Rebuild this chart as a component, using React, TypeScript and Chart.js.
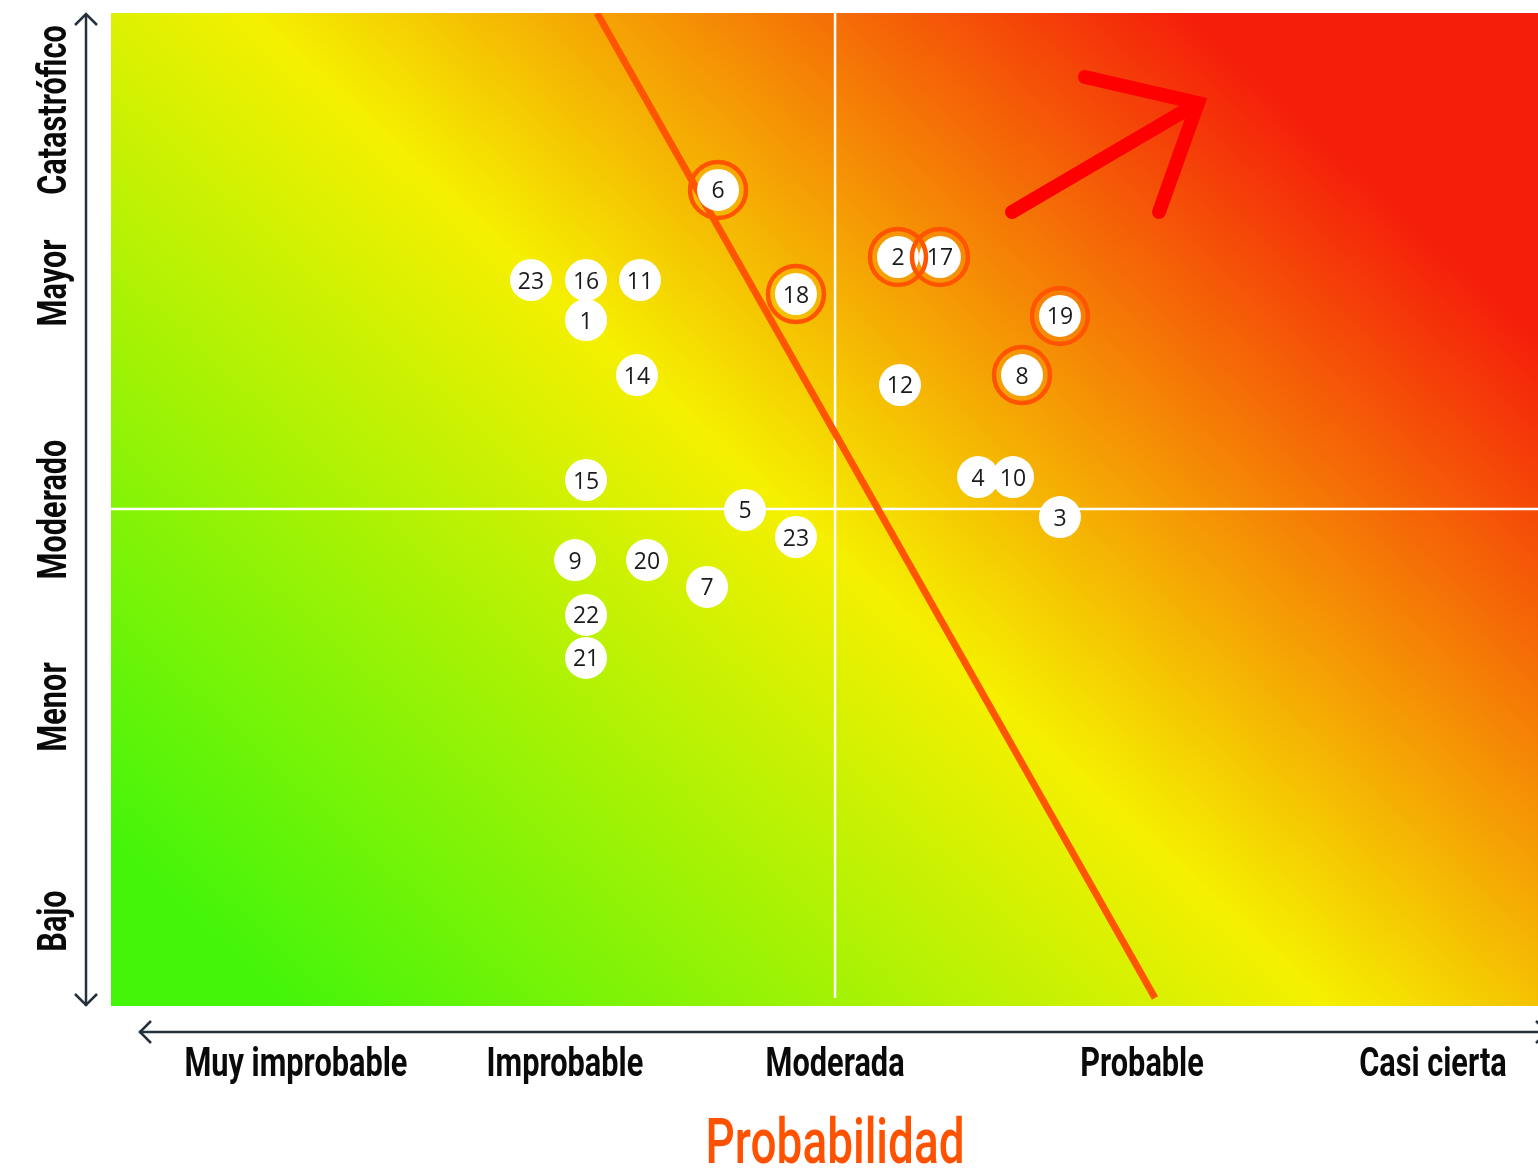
import React, { useEffect, useRef } from "react";
import { Chart, registerables } from "chart.js";
Chart.register(...registerables);

// ---- data ----
const riskIds = ["6", "23", "16", "11", "1", "18", "14", "2", "17", "19", "8", "12", "4", "10", "3", "15", "5", "23", "9", "20", "7", "22", "21"];
const probability = [42.54, 29.43, 33.29, 37.07, 33.29, 48.0, 36.86, 55.15, 58.09, 66.5, 63.84, 55.29, 60.76, 63.21, 66.5, 33.29, 44.43, 48.0, 32.52, 37.56, 41.77, 33.29, 33.29];
const impact = [82.18, 73.11, 73.11, 73.11, 69.08, 71.7, 63.54, 75.43, 75.43, 69.49, 63.54, 62.54, 53.27, 53.27, 49.24, 52.97, 49.95, 47.23, 44.91, 44.91, 42.2, 39.38, 35.05];
const flagged = [true, false, false, false, false, true, false, true, true, true, true, false, false, false, false, false, false, false, false, false, false, false, false];

const probLabels = ["Muy improbable", "Improbable", "Moderada", "Probable", "Casi cierta"];
const probTicks = [12.96, 31.81, 50.74, 72.25, 92.64];
const impactLabels = ["Bajo", "Menor", "Moderado", "Mayor", "Catastrófico"];
const impactTicks = [8.56, 30.11, 50.0, 72.81, 90.23];

const thresholdX = [34.06, 73.16];
const thresholdY = [100, 0.81];
const midProb = 50.74;
const midImpact = 50.05;
const vLineY = [0.81, 100];
const hLineX = [0, 100];
const arrowShaftX = [63.14, 76.17];
const arrowShaftY = [79.96, 90.94];
const arrowHeadX = [68.25, 76.17, 73.44];
const arrowHeadY = [93.55, 90.94, 79.96];

const xTitle = "Probabilidad";

const LABEL_FONT = 'bold 41px Roboto';
const TITLE_FONT = '500 63px Roboto';

function condensedText(ctx: CanvasRenderingContext2D, text: string, x: number, y: number, font: string, color: string, sx: number, rotate: boolean) {
  ctx.save();
  ctx.translate(x, y);
  if (rotate) ctx.rotate(-Math.PI / 2);
  ctx.scale(sx, 1);
  ctx.font = font;
  ctx.fillStyle = color;
  ctx.textAlign = "center";
  ctx.textBaseline = "alphabetic";
  ctx.fillText(text, 0, 0);
  ctx.restore();
}

const bgPlugin = {
  id: "bgGradient",
  beforeDatasetsDraw(chart: any) {
    const { ctx, chartArea: a } = chart;
    const cx = a.left + (a.right - a.left) * 0.476;
    const cy = a.top + (a.bottom - a.top) * 0.5;
    const dx = 0.677, dy = -0.736;
    const g = ctx.createLinearGradient(cx - 825 * dx, cy - 825 * dy, cx + 872 * dx, cy + 872 * dy);
    g.addColorStop(0, "#44f50a");
    g.addColorStop(0.07, "#44f50a");
    g.addColorStop(0.486, "#f5f000");
    g.addColorStop(0.86, "#f51e0a");
    g.addColorStop(1, "#f51e0a");
    ctx.save();
    ctx.fillStyle = g;
    ctx.fillRect(a.left, a.top, a.right - a.left, a.bottom - a.top);
    ctx.restore();
  },
};

const decoPlugin = {
  id: "deco",
  afterDatasetsDraw(chart: any) {
    const { ctx } = chart;
    const meta = chart.getDatasetMeta(1);
    ctx.save();
    ctx.font = '23px "Open Sans"';
    ctx.fillStyle = "#1b1b1b";
    ctx.textAlign = "center";
    ctx.textBaseline = "alphabetic";
    meta.data.forEach((el: any, i: number) => {
      ctx.fillText(riskIds[i], el.x, el.y + 8.5);
    });
    ctx.restore();
  },
  afterDraw(chart: any) {
    const { ctx, chartArea: a, scales } = chart;
    const axisColor = "#26303c";
    ctx.save();
    ctx.strokeStyle = axisColor;
    ctx.lineWidth = 2.5;
    ctx.lineCap = "butt";
    const ax = a.left - 25;
    ctx.beginPath();
    ctx.moveTo(ax, a.top + 1);
    ctx.lineTo(ax, a.bottom);
    ctx.stroke();
    ctx.beginPath();
    ctx.moveTo(ax - 11, a.top + 12);
    ctx.lineTo(ax, a.top + 1);
    ctx.lineTo(ax + 11, a.top + 12);
    ctx.stroke();
    ctx.beginPath();
    ctx.moveTo(ax - 11, a.bottom - 12);
    ctx.lineTo(ax, a.bottom - 1);
    ctx.lineTo(ax + 11, a.bottom - 12);
    ctx.stroke();
    const ay = a.bottom + 26;
    ctx.beginPath();
    ctx.moveTo(a.left + 28, ay);
    ctx.lineTo(a.right + 12, ay);
    ctx.stroke();
    ctx.beginPath();
    ctx.moveTo(a.left + 40, ay - 11);
    ctx.lineTo(a.left + 29, ay);
    ctx.lineTo(a.left + 40, ay + 11);
    ctx.stroke();
    ctx.beginPath();
    ctx.moveTo(a.right - 2, ay - 11);
    ctx.lineTo(a.right + 9, ay);
    ctx.lineTo(a.right - 2, ay + 11);
    ctx.stroke();
    ctx.restore();

    ctx.save();
    ctx.font = LABEL_FONT;
    const sx = 223 / ctx.measureText("Muy improbable").width;
    ctx.font = TITLE_FONT;
    const tsx = 259 / ctx.measureText(xTitle).width;
    ctx.restore();

    probLabels.forEach((lab, i) => {
      const x = scales.x.getPixelForValue(probTicks[i]);
      condensedText(ctx, lab, x, a.bottom + 70, LABEL_FONT, "#0a0a0a", sx, false);
    });
    impactLabels.forEach((lab, i) => {
      const y = scales.y.getPixelForValue(impactTicks[i]);
      condensedText(ctx, lab, a.left - 45, y, LABEL_FONT, "#0a0a0a", sx, true);
    });
    const tx = scales.x.getPixelForValue(midProb);
    condensedText(ctx, xTitle, tx, a.bottom + 157, TITLE_FONT, "#ff5200", tsx, false);
  },
};

export default function App() {
  const ref = useRef<HTMLCanvasElement | null>(null);
  useEffect(() => {
    if (!ref.current) return;
    const pts = probability.map((x, i) => ({ x, y: impact[i] }));
    const ringPts = pts.filter((_, i) => flagged[i]);
    const chart = new Chart(ref.current, {
      type: "scatter",
      data: {
        datasets: [
          {
            data: ringPts,
            pointRadius: 28,
            pointBorderWidth: 4.5,
            pointBorderColor: "#ff5500",
            pointBackgroundColor: "rgba(0,0,0,0)",
            order: 0,
          } as any,
          {
            data: pts,
            pointRadius: 21,
            pointBorderWidth: 0,
            pointBackgroundColor: "#ffffff",
            pointBorderColor: "#ffffff",
            order: 1,
          } as any,
          {
            data: thresholdX.map((x, i) => ({ x, y: thresholdY[i] })),
            showLine: true,
            pointRadius: 0,
            borderColor: "#ff5500",
            borderWidth: 7,
            order: 2,
          } as any,
          {
            data: arrowShaftX.map((x, i) => ({ x, y: arrowShaftY[i] })),
            showLine: true,
            pointRadius: 0,
            borderColor: "#ff0000",
            borderWidth: 14,
            borderCapStyle: "round",
            order: 3,
          } as any,
          {
            data: arrowHeadX.map((x, i) => ({ x, y: arrowHeadY[i] })),
            showLine: true,
            pointRadius: 0,
            borderColor: "#ff0000",
            borderWidth: 14,
            borderCapStyle: "round",
            borderJoinStyle: "miter",
            order: 3,
          } as any,
          {
            data: vLineY.map((y) => ({ x: midProb, y })),
            showLine: true,
            pointRadius: 0,
            borderColor: "#ffffff",
            borderWidth: 2.5,
            order: 5,
          } as any,
          {
            data: hLineX.map((x) => ({ x, y: midImpact })),
            showLine: true,
            pointRadius: 0,
            borderColor: "#ffffff",
            borderWidth: 2.5,
            order: 5,
          } as any,
        ],
      },
      options: {
        animation: false,
        responsive: true,
        maintainAspectRatio: false,
        events: [],
        layout: { autoPadding: false, padding: { left: 111, top: 13, right: 0, bottom: 168 } },
        plugins: { legend: { display: false }, tooltip: { enabled: false } },
        scales: {
          x: { type: "linear", min: 0, max: 100, display: false },
          y: { type: "linear", min: 0, max: 100, display: false },
        },
      },
      plugins: [bgPlugin, decoPlugin],
    });
    return () => chart.destroy();
  }, []);
  return (
    <div style={{ position: "absolute", left: 0, top: 0, width: 1538, height: 1174, background: "#ffffff" }}>
      <canvas ref={ref} />
    </div>
  );
}
